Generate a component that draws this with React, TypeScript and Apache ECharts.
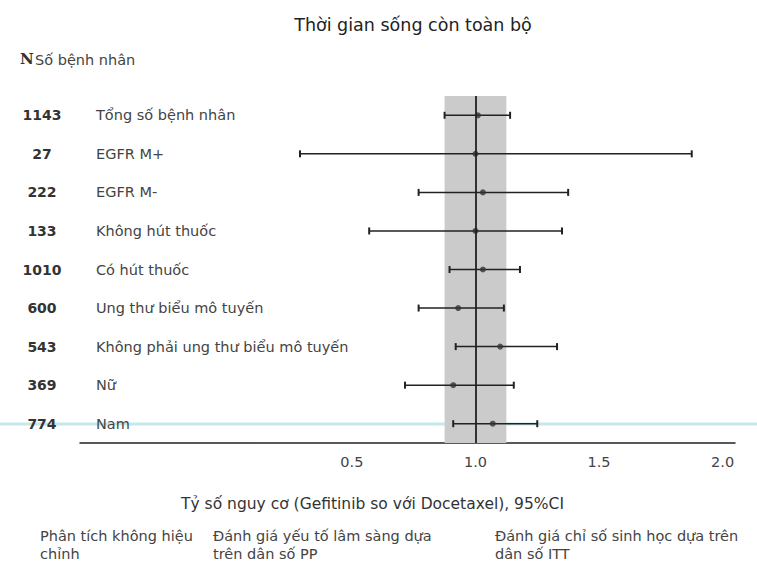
import React, { useEffect, useRef } from "react";
import * as echarts from "echarts";

const counts = ["1143", "27", "222", "133", "1010", "600", "543", "369", "774"];
const subgroups = [
  "Tổng số bệnh nhân",
  "EGFR M+",
  "EGFR M-",
  "Không hút thuốc",
  "Có hút thuốc",
  "Ung thư biểu mô tuyến",
  "Không phải ung thư biểu mô tuyến",
  "Nữ",
  "Nam",
];
const hazardRatio = [1.01, 1.0, 1.03, 1.0, 1.03, 0.93, 1.1, 0.91, 1.07];
const ciLow = [0.875, 0.29, 0.77, 0.57, 0.895, 0.77, 0.92, 0.715, 0.91];
const ciHigh = [1.14, 1.875, 1.375, 1.35, 1.18, 1.115, 1.33, 1.155, 1.25];
const xTicks = [0.5, 1.0, 1.5, 2.0];
const bandRange = [0.875, 1.125];

const FONT = "'DejaVu Sans', 'Liberation Sans', Arial, sans-serif";

export default function App() {
  const ref = useRef<HTMLDivElement>(null);
  useEffect(() => {
    const chart = echarts.init(ref.current!, null, { renderer: "svg" });
    const option: any = {
      animation: false,
      backgroundColor: "#ffffff",
      textStyle: { fontFamily: FONT },
      grid: { left: 80, right: 22, top: 96, bottom: 134, containLabel: false },
      title: {
        text: "Thời gian sống còn toàn bộ",
        left: 408,
        textAlign: "center",
        top: 11,
        textStyle: { fontSize: 17.5, fontWeight: "normal", color: "#222", fontFamily: FONT },
      },
      xAxis: {
        type: "value",
        min: -0.6,
        max: 2.05,
        interval: 0.1,
        splitLine: { show: false },
        axisLine: { show: true, onZero: false, lineStyle: { color: "#222", width: 1.5 } },
        axisTick: { show: false },
        axisLabel: {
          showMinLabel: false,
          showMaxLabel: false,
          formatter: (v: number) =>
            xTicks.some((t) => Math.abs(t - v) < 1e-6) ? v.toFixed(1) : "",
          color: "#444",
          fontSize: 14.5,
          margin: 11,
          fontFamily: FONT,
        },
        name: "Tỷ số nguy cơ (Gefitinib so với Docetaxel), 95%CI",
        nameLocation: "middle",
        nameGap: 53,
        nameTextStyle: { fontSize: 15.5, color: "#333", fontFamily: FONT, padding: [0, 70, 0, 0] },
      },
      yAxis: {
        type: "value",
        min: -0.5,
        max: 8.5,
        interval: 0.5,
        inverse: true,
        axisLine: { show: false },
        axisTick: { show: false },
        splitLine: { show: false },
        axisLabel: {
          align: "left",
          margin: 68,
          showMinLabel: false,
          showMaxLabel: false,
          formatter: (v: number) => {
            const i = Math.round(v);
            if (Math.abs(v - i) > 1e-6 || i < 0 || i >= subgroups.length) return "";
            return `{n|${counts[i]}}{t|${subgroups[i]}}`;
          },
          rich: {
            n: { width: 60, align: "right", fontSize: 14, fontWeight: "bold", color: "#333", fontFamily: FONT },
            t: { padding: [0, 0, 0, 24], align: "left", fontSize: 14.5, color: "#444", fontFamily: FONT },
          },
        },
      },
      graphic: [
        {
          type: "line",
          z: -1,
          shape: { x1: 0, y1: 424, x2: 757, y2: 424 },
          style: { stroke: "#c4e8ec", lineWidth: 3 },
        },
        {
          type: "text",
          left: 20,
          top: 51,
          style: { text: "N", font: "bold 15px 'DejaVu Serif', serif", fill: "#333" },
        },
        {
          type: "text",
          left: 35,
          top: 52,
          style: { text: "Số bệnh nhân", font: `14.5px ${FONT}`, fill: "#444" },
        },
        {
          type: "text",
          left: 40,
          top: 527,
          style: { text: "Phân tích không hiệu\nchỉnh", font: `14.5px ${FONT}`, fill: "#444", lineHeight: 18 },
        },
        {
          type: "text",
          left: 213,
          top: 527,
          style: { text: "Đánh giá yếu tố lâm sàng dựa\ntrên dân số PP", font: `14.5px ${FONT}`, fill: "#444", lineHeight: 18 },
        },
        {
          type: "text",
          left: 495,
          top: 527,
          style: { text: "Đánh giá chỉ số sinh học dựa trên\ndân số ITT", font: `14.5px ${FONT}`, fill: "#444", lineHeight: 18 },
        },
      ],
      series: [
        {
          type: "custom",
          z: 3,
          renderItem: (params: any, api: any) => {
            const lo = api.coord([api.value(0), api.value(2)]);
            const hi = api.coord([api.value(1), api.value(2)]);
            const cap = 3.5;
            const style = { stroke: "#222", lineWidth: 1.5 };
            const capStyle = { stroke: "#222", lineWidth: 2 };
            return {
              type: "group",
              children: [
                { type: "line", shape: { x1: lo[0], y1: lo[1], x2: hi[0], y2: hi[1] }, style },
                { type: "line", shape: { x1: lo[0], y1: lo[1] - cap, x2: lo[0], y2: lo[1] + cap }, style: capStyle },
                { type: "line", shape: { x1: hi[0], y1: hi[1] - cap, x2: hi[0], y2: hi[1] + cap }, style: capStyle },
              ],
            };
          },
          encode: { x: [0, 1], y: 2 },
          data: subgroups.map((_, i) => [ciLow[i], ciHigh[i], i]),
        },
        {
          type: "scatter",
          z: 4,
          symbol: "circle",
          symbolSize: 6,
          itemStyle: { color: "#333" },
          data: subgroups.map((_, i) => [hazardRatio[i], i]),
          markArea: {
            silent: true,
            z: 1,
            itemStyle: { color: "#cbcbcb" },
            data: [[{ xAxis: bandRange[0] }, { xAxis: bandRange[1] }]],
          },
          markLine: {
            silent: true,
            symbol: "none",
            label: { show: false },
            lineStyle: { color: "#222", width: 1.8, type: "solid" },
            data: [{ xAxis: 1.0 }],
          },
        },
      ],
    };
    chart.setOption(option);
    return () => chart.dispose();
  }, []);
  return (
    <div
      ref={ref}
      style={{ position: "fixed", left: 0, top: 0, width: 757, height: 577 }}
    />
  );
}
